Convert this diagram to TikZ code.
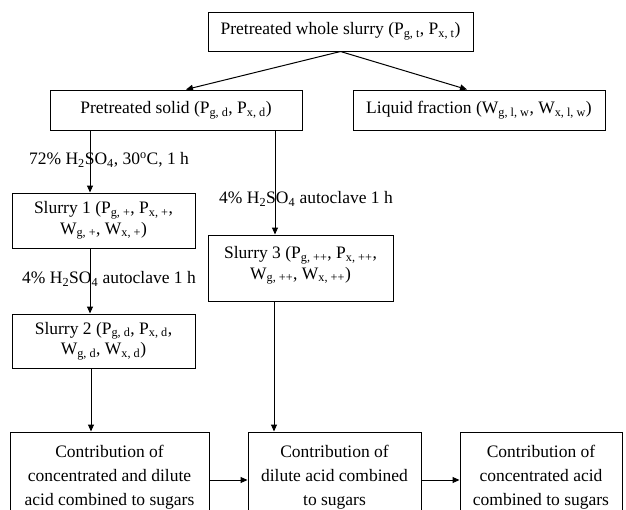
\documentclass[tikz,border=0pt]{standalone}
\usepackage{fontspec}
\setmainfont{Liberation Serif}
\usetikzlibrary{arrows.meta}
\newcommand\sbs[1]{\textsubscript{#1}}
\begin{document}
\begin{tikzpicture}[x=1pt,y=-1pt,
  box/.style={draw, line width=1pt, align=center, inner sep=0pt, font=\fontsize{17.5}{20.5}\selectfont},
  bigbox/.style={box, font=\fontsize{17.5}{24}\selectfont},
  arr/.style={line width=1pt, -{Triangle[length=7pt,width=6pt]}},
  lbl/.style={font=\fontsize{17.5}{20}\selectfont, inner sep=0pt}]
\useasboundingbox (0,0) rectangle (626,509);
\clip (0,0) rectangle (626,509);
\node[box, minimum width=265pt, minimum height=39pt] (top) at (340.5,31.5) {Pretreated whole slurry (P\sbs{g, t}, P\sbs{x, t})};
\node[box, minimum width=252pt, minimum height=40pt] (solid) at (176,110) {Pretreated solid (P\sbs{g, d}, P\sbs{x, d})};
\node[box, minimum width=252pt, minimum height=40pt] (liquid) at (479,110) {Liquid fraction (W\sbs{g, l, w}, W\sbs{x, l, w})};
\node[box, minimum width=183pt, minimum height=55pt] (s1) at (103.5,220.5) {Slurry 1 (P\sbs{g, +}, P\sbs{x, +},\\ W\sbs{g, +}, W\sbs{x, +})};
\node[box, minimum width=185pt, minimum height=66pt] (s3) at (300.5,268) {Slurry 3 (P\sbs{g, ++}, P\sbs{x, ++},\\ W\sbs{g, ++}, W\sbs{x, ++})\\[-10pt]};
\node[box, minimum width=183pt, minimum height=54pt] (s2) at (103.5,341) {Slurry 2 (P\sbs{g, d}, P\sbs{x, d},\\ W\sbs{g, d}, W\sbs{x, d})};
\node[bigbox, minimum width=199pt, minimum height=90pt] (b1) at (109.5,477) {Contribution of\\ concentrated and dilute\\ acid combined to sugars};
\node[bigbox, minimum width=173pt, minimum height=90pt] (b2) at (334.5,477) {Contribution of\\ dilute acid combined\\ to sugars};
\node[bigbox, minimum width=162pt, minimum height=90pt] (b3) at (541,477) {Contribution of\\ concentrated acid\\ combined to sugars};

\draw[arr] (top.south) -- ([xshift=10pt]solid.north);
\draw[arr] (top.south) -- ([xshift=-12pt]liquid.north);
\draw[arr] ([xshift=-13.5pt]s1.north |- solid.south) -- ([xshift=-13.5pt]s1.north);
\draw[arr] ([xshift=-25.5pt]s3.north |- solid.south) -- ([xshift=-25.5pt]s3.north);
\draw[arr] ([xshift=-13.5pt]s1.south) -- ([xshift=-13.5pt]s2.north);
\draw[arr] ([xshift=-18.5pt]b1.north |- s2.south) -- ([xshift=-18.5pt]b1.north);
\draw[arr] ([xshift=-60.5pt]b2.north |- s3.south) -- ([xshift=-60.5pt]b2.north);
\draw[arr] ([yshift=-3pt]b1.east) -- ([yshift=-3pt]b2.west);
\draw[arr] ([yshift=-3pt]b2.east) -- ([yshift=-3pt]b3.west);

\node[lbl] (l1) at (109,160) {72\% H\sbs{2}SO\sbs{4}, 30\textsuperscript{o}C, 1 h};
\node[lbl] (l2) at (306,199) {4\% H\sbs{2}SO\sbs{4} autoclave 1 h};
\node[lbl] (l3) at (109,279) {4\% H\sbs{2}SO\sbs{4} autoclave 1 h};
\end{tikzpicture}
\end{document}
